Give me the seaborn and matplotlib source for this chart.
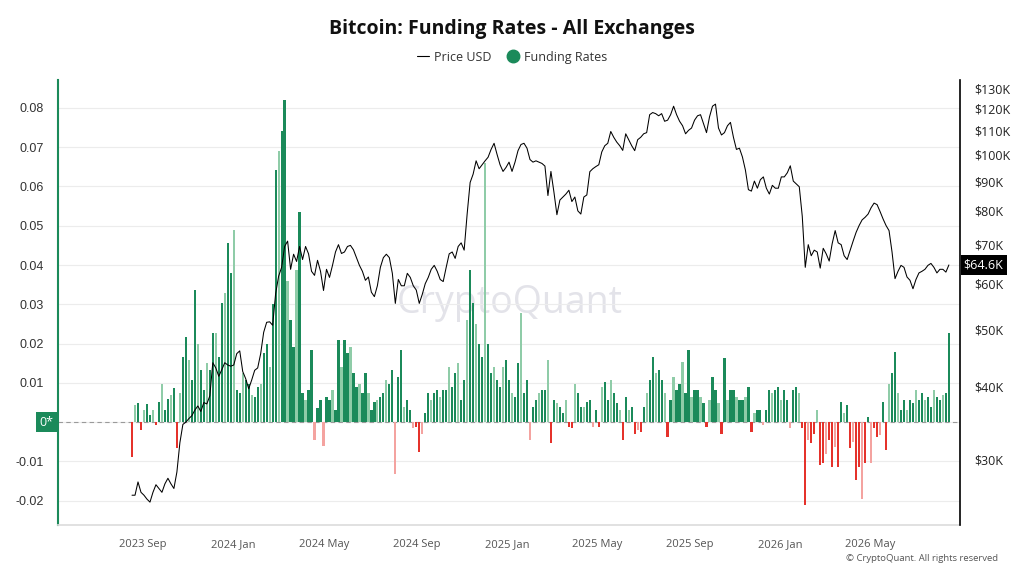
import numpy as np
import pandas as pd
import matplotlib
matplotlib.use("Agg")
import matplotlib.pyplot as plt
import matplotlib.dates as mdates
import matplotlib.ticker as mticker
import matplotlib.transforms as mtrans
from matplotlib.lines import Line2D
import seaborn as sns

# BTC price (thousand USD), one reading every 4 days from 2023-08-18
price_k = [26.0, 26.0, 27.4, 26.3, 26.0, 25.6, 25.3, 26.3, 27.1, 26.7,
           26.3, 27.2, 27.8, 27.2, 26.7, 28.5, 32.0, 34.4, 34.7, 35.2,
           35.6, 36.4, 37.0, 36.2, 37.5, 37.3, 38.5, 43.9, 43.0, 41.6,
           42.7, 43.9, 43.5, 43.3, 43.5, 45.5, 46.0, 42.4, 41.2, 39.6,
           41.0, 42.6, 43.0, 45.5, 49.5, 51.5, 51.6, 50.9, 57.7, 61.8,
           64.0, 69.5, 71.0, 63.5, 67.4, 65.5, 69.5, 66.0, 69.5, 67.5,
           63.0, 62.0, 65.8, 63.0, 58.4, 63.5, 61.5, 64.5, 68.0, 70.0,
           67.6, 68.0, 69.5, 69.8, 68.6, 66.5, 64.5, 63.0, 60.8, 61.6,
           58.0, 57.0, 59.5, 64.0, 66.5, 67.4, 66.5, 62.5, 55.5, 61.0,
           59.5, 59.5, 62.5, 61.5, 59.5, 58.5, 55.5, 57.5, 60.0, 61.5,
           63.5, 64.5, 63.0, 61.0, 60.5, 64.0, 67.5, 68.0, 66.3, 69.5,
           70.5, 68.5, 79.0, 89.5, 92.5, 97.5, 94.5, 96.0, 97.5, 98.9,
           102, 104.5, 100, 96, 93.5, 95, 97, 93.5, 97, 101.5,
           104, 104.5, 102.5, 98, 97, 97.5, 97, 96.5, 95.5, 85,
           93.5, 86.2, 78.8, 83.5, 84.5, 85.5, 86.8, 83, 84.5, 80,
           79, 84.5, 85.2, 93.4, 94.5, 95.3, 96, 101, 103.5, 104.5,
           109.5, 107, 105, 103.5, 101.6, 108.5, 106, 103.5, 101.5, 106,
           107, 108.5, 109, 117, 118, 117.5, 116.5, 117.5, 114, 114.5,
           117, 121, 117, 114, 112, 108.5, 110, 111, 114.5, 116.5,
           117, 113, 109, 116, 121, 122, 111, 108, 109, 112,
           113.5, 107, 102, 102.5, 99, 94, 87, 86.5, 90, 87.5,
           90.5, 91.5, 87.5, 85.5, 88.5, 87.5, 87.5, 91.5, 91.5, 93,
           95.6, 90, 89, 88, 78.3, 64, 70, 67, 68.5, 68,
           63.8, 69, 67.5, 65.6, 70.3, 74, 70.5, 70, 67, 66,
           68.5, 71, 73.5, 75.5, 77.2, 78, 79, 81, 82.5, 82,
           79.8, 77.5, 75.5, 74, 68, 61.2, 63, 64.5, 64, 61.6,
           60.8, 58.8, 61, 62.6, 63, 63.5, 64.5, 65, 64, 62.6,
           63.5, 63.5, 62.8, 64.6]

# funding rates, same dates
funding = [-0.009, 0.0043, 0.0048, -0.002, 0.003, 0.0045, 0.0018, 0.003, -0.0008, 0.005,
           0.0098, 0.003, 0.006, 0.0069, 0.0086, -0.0067, 0.0073, 0.0166, 0.0217, 0.0158,
           0.0107, 0.0336, 0.02, 0.0132, 0.0082, 0.015, 0.0132, 0.0226, 0.0226, 0.0166,
           0.0302, 0.0328, 0.0455, 0.0379, 0.0489, 0.0082, 0.0073, 0.0124, 0.0107, 0.0098,
           0.0069, 0.0065, 0.009, 0.0098, 0.0175, 0.02, 0.0141, 0.03, 0.0642, 0.0689,
           0.074, 0.082, 0.036, 0.026, 0.0192, 0.0387, 0.0535, 0.0073, 0.0056, 0.0082,
           0.0183, -0.0046, 0.0035, 0.0056, -0.006, 0.0065, 0.0056, 0.0082, 0.003, 0.0209,
           0.0141, 0.0209, 0.0175, 0.0192, 0.0124, 0.009, 0.0098, 0.0073, 0.0124, 0.0073,
           0.003, 0.005, 0.0056, 0.0065, 0.0073, 0.0107, 0.0098, 0.0132, -0.0131, 0.0115,
           0.0183, 0.0039, 0.0056, 0.003, -0.0016, -0.0012, -0.0076, -0.0029, 0.0022, 0.0073,
           0.0056, 0.0073, 0.0082, 0.0065, 0.0082, 0.0082, 0.0141, 0.009, 0.0124, 0.015,
           0.0056, 0.0107, 0.026, 0.0387, 0.0302, 0.0251, 0.02, 0.0166, 0.066, 0.02,
           0.0124, 0.0141, 0.0107, 0.009, 0.0141, 0.0158, 0.0107, 0.0073, 0.0065, 0.015,
           0.0277, 0.0073, 0.0107, -0.0046, 0.0039, 0.0056, 0.0073, 0.0082, 0.0082, 0.0158,
           -0.0054, 0.0056, 0.0048, 0.0039, 0.0022, 0.0056, -0.0012, -0.0016, 0.0098, 0.0073,
           0.0039, 0.0039, 0.005, 0.0056, -0.0012, 0.003, -0.0012, 0.009, 0.0103, 0.0056,
           0.0107, 0.0073, 0.0048, 0.003, -0.0046, 0.0065, 0.003, 0.0039, -0.0029, -0.002,
           -0.0025, 0.0039, 0.0073, 0.0107, 0.0166, 0.0124, 0.0132, 0.0107, 0.0073, -0.0037,
           0.0056, 0.0115, 0.0082, 0.0098, 0.0154, 0.0073, 0.0183, 0.0065, 0.0082, 0.0082,
           0.0065, 0.0048, -0.0012, 0.0056, 0.0115, 0.0082, 0.0048, -0.0029, 0.0162, 0.0056,
           0.0082, 0.0082, 0.0065, 0.0056, 0.0056, 0.0065, 0.009, -0.0025, 0.0022, 0.003,
           0.003, -0.0008, 0.003, 0.0082, 0.0073, 0.0082, 0.009, 0.0056, 0.0082, 0.0056,
           -0.0016, 0.0082, 0.009, 0.0073, -0.0016, -0.021, -0.0046, -0.0054, -0.0029, 0.003,
           -0.011, -0.0105, -0.008, -0.0046, -0.0114, -0.0063, -0.0114, 0.005, 0.0022, 0.0043,
           -0.0067, -0.005, -0.0148, -0.0114, -0.0195, -0.0105, 0.0014, -0.0105, -0.0016, -0.0037,
           -0.0033, 0.005, -0.0071, 0.0098, 0.0124, 0.0179, 0.0073, 0.003, 0.0056, 0.003,
           0.0056, 0.0048, 0.0082, 0.0056, 0.0073, 0.0056, 0.0065, 0.0039, 0.0082, 0.0065,
           0.0056, 0.0069, 0.0073, 0.0226]

start_date = "2023-08-18"
price_ticks = [30000, 40000, 50000, 60000, 70000, 80000, 90000, 100000, 110000, 120000, 130000]
fr_ticks = [-0.02, -0.01, 0, 0.01, 0.02, 0.03, 0.04, 0.05, 0.06, 0.07, 0.08]
date_ticks = ["2023-09-01", "2024-01-01", "2024-05-01", "2024-09-01", "2025-01-01",
              "2025-05-01", "2025-09-01", "2026-01-01", "2026-05-01"]

df = pd.DataFrame({
    "date": pd.date_range(start_date, periods=len(price_k), freq="4D"),
    "price": np.array(price_k) * 1000,
    "funding": funding,
})

GREEN = "#1b8a5a"
GREEN_L = "#8fcca8"
RED = "#e5322b"
RED_L = "#f4a3a0"

sns.set_theme(style="white")
plt.rcParams['font.family'] = ['Open Sans', 'DejaVu Sans']

fig = plt.figure(figsize=(10.24, 5.76), dpi=100)
ax = fig.add_axes([0.0566, 0.0885, 0.881, 0.7726])
ax2 = ax.twinx()

cols = []
for i, v in enumerate(df["funding"]):
    if v >= 0:
        cols.append(GREEN if i % 3 != 1 else GREEN_L)
    else:
        cols.append(RED if i % 3 != 1 else RED_L)

ax.bar(df["date"], df["funding"], width=3.0, color=cols, linewidth=0, zorder=2)
ax.axhline(0, color="#9a9a9a", lw=0.8, ls=(0, (4, 3)), zorder=1)
ax.text(0.501, 0.5, "CryptoQuant", transform=ax.transAxes, ha="center", va="center",
        fontsize=27, color="#dcdce4", alpha=0.8, zorder=0)

sns.lineplot(data=df, x="date", y="price", ax=ax2, color="black", lw=0.75)

# left axis
ax.set_ylim(-0.0262, 0.0871)
ax.set_yticks(fr_ticks)
ax.set_yticklabels(["" if t == 0 else f"{t:g}" for t in fr_ticks],
                   fontsize=9, color="#333333", family="Liberation Sans")
ax.yaxis.grid(True, color="#ececec", lw=0.8)
ax.set_axisbelow(True)
ax.tick_params(axis="y", length=0, pad=10)
ax.text(-0.0127, 0, "0*", transform=mtrans.blended_transform_factory(ax.transAxes, ax.transData),
        ha="center", va="center", fontsize=9, color="white",
        bbox=dict(boxstyle="square,pad=0.3", fc=GREEN, ec="none"))

# right axis
ax2.set_yscale("log")
ax2.set_ylim(23110, 134200)
ax2.yaxis.set_major_locator(mticker.FixedLocator(price_ticks))
ax2.yaxis.set_minor_locator(mticker.NullLocator())
ax2.yaxis.set_major_formatter(mticker.FuncFormatter(lambda v, p: f"${int(round(v / 1000))}K"))
ax2.tick_params(axis="y", length=0, pad=10, labelsize=9, labelcolor="#222222")
ax2.set_ylabel("")
ax2.set_xlabel("")
ax2.text(1.004, df["price"].iloc[-1], f"${df['price'].iloc[-1] / 1000:.1f}K",
         transform=mtrans.blended_transform_factory(ax2.transAxes, ax2.transData),
         ha="left", va="center", fontsize=9, color="white",
         bbox=dict(boxstyle="square,pad=0.25", fc="black", ec="none"), clip_on=False)

# x axis
ax.set_xlim(pd.Timestamp("2023-05-11"), pd.Timestamp("2026-08-29"))
ax.set_xticks(pd.to_datetime(date_ticks))
ax.xaxis.set_major_formatter(mdates.DateFormatter("%Y %b"))
ax.tick_params(axis="x", length=4, color="#cccccc", labelsize=8, labelcolor="#555555", pad=6)
ax.set_xlabel("")

for s in ["top", "right"]:
    ax.spines[s].set_visible(False)
ax.spines["left"].set_color(GREEN)
ax.spines["left"].set_linewidth(1.5)
ax.spines["bottom"].set_color("#dddddd")
for s in ["top", "left", "bottom"]:
    ax2.spines[s].set_visible(False)
ax2.spines["right"].set_color("black")
ax2.spines["right"].set_linewidth(1.2)

fig.text(0.5, 0.95, "Bitcoin: Funding Rates - All Exchanges", ha="center", va="center",
         fontsize=14, fontweight="bold", color="#111111")
handles = [Line2D([], [], color="black", lw=0.8),
           Line2D([], [], marker="o", color=GREEN, ls="", markersize=9)]
fig.legend(handles, ["Price USD", "Funding Rates"], loc="center", bbox_to_anchor=(0.5, 0.901),
           ncol=2, frameon=False, fontsize=9, handlelength=1.0, handletextpad=0.4,
           columnspacing=1.2, labelcolor="#333333")
fig.text(0.975, 0.031, "© CryptoQuant. All rights reserved", ha="right", va="center",
         fontsize=6.8, color="#555555")

fig.savefig("out.png", dpi=100)
